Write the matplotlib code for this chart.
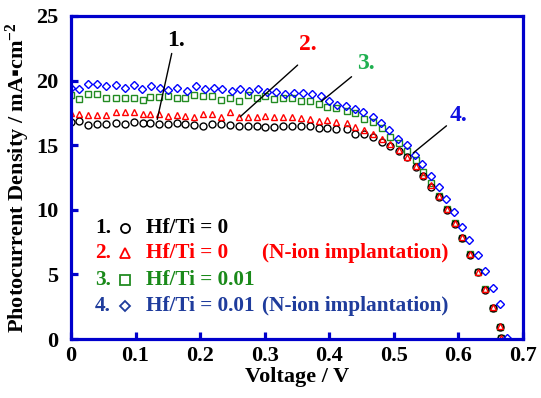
import matplotlib
matplotlib.use("Agg")
import matplotlib.pyplot as plt

plt.rcParams['font.family'] = ['Liberation Serif', 'DejaVu Serif']
plt.rcParams['font.weight'] = 'bold'
plt.rcParams['mathtext.fontset'] = 'custom'
plt.rcParams['mathtext.rm'] = 'Liberation Serif:bold'
plt.rcParams['mathtext.default'] = 'rm'

# voltage points shared by series 1-3
volt = [0.000, 0.012, 0.027, 0.041, 0.055, 0.069, 0.083, 0.097, 0.111, 0.123,
        0.136, 0.150, 0.164, 0.177, 0.190, 0.204, 0.219, 0.232, 0.246, 0.260,
        0.274, 0.288, 0.301, 0.315, 0.329, 0.343, 0.356, 0.370, 0.384, 0.397,
        0.411, 0.427, 0.440, 0.454, 0.467, 0.481, 0.494, 0.508, 0.520, 0.534,
        0.545, 0.558, 0.570, 0.583, 0.594, 0.606, 0.618, 0.631, 0.641, 0.653,
        0.664, 0.666]
# voltage points of series 4
volt4 = [0.000, 0.012, 0.027, 0.040, 0.055, 0.069, 0.083, 0.098, 0.110, 0.124,
         0.138, 0.151, 0.164, 0.179, 0.193, 0.207, 0.221, 0.234, 0.249, 0.262,
         0.276, 0.290, 0.304, 0.318, 0.332, 0.346, 0.360, 0.374, 0.387, 0.400,
         0.412, 0.426, 0.440, 0.453, 0.467, 0.480, 0.493, 0.506, 0.520, 0.533,
         0.544, 0.557, 0.570, 0.581, 0.593, 0.605, 0.617, 0.630, 0.641, 0.653,
         0.664, 0.676]

j1 = [16.82, 16.87, 16.56, 16.66, 16.61, 16.69, 16.66, 16.77, 16.74, 16.69,
      16.61, 16.64, 16.69, 16.61, 16.56, 16.50, 16.64, 16.64, 16.56, 16.51,
      16.49, 16.49, 16.43, 16.38, 16.49, 16.51, 16.51, 16.49, 16.35, 16.35,
      16.28, 16.23, 15.84, 15.84, 15.61, 15.22, 14.96, 14.55, 14.06, 13.34,
      12.62, 11.79, 11.01, 9.98, 8.90, 7.80, 6.50, 5.15, 3.80, 2.40,
      0.95, 0.05]
j2 = [17.52, 17.39, 17.34, 17.34, 17.34, 17.54, 17.54, 17.54, 17.39, 17.39,
      17.39, 17.26, 17.34, 17.26, 17.21, 17.45, 17.45, 17.16, 17.55, 17.16,
      17.16, 17.16, 17.29, 17.22, 17.16, 17.16, 17.13, 17.05, 16.88, 16.98,
      16.82, 16.74, 16.43, 16.18, 15.87, 15.45, 15.09, 14.63, 14.11, 13.41,
      12.69, 11.90, 11.09, 10.09, 9.00, 7.87, 6.58, 5.22, 3.87, 2.44,
      0.97, 0.06]
j3 = [18.89, 18.55, 18.94, 18.94, 18.68, 18.68, 18.68, 18.68, 18.50, 18.76,
      18.76, 18.81, 18.63, 18.63, 18.89, 18.81, 18.81, 18.50, 18.63, 18.42,
      18.89, 18.68, 18.81, 18.60, 18.63, 18.63, 18.45, 18.42, 18.19, 17.98,
      17.86, 17.67, 17.47, 17.03, 16.77, 16.31, 15.61, 15.15, 14.57, 13.85,
      12.95, 12.05, 11.07, 10.08, 8.95, 7.84, 6.56, 5.21, 3.85, 2.42,
      0.95, 0.05]
j4 = [19.40, 19.35, 19.71, 19.71, 19.58, 19.63, 19.40, 19.63, 19.32, 19.58,
      19.45, 19.27, 19.40, 19.20, 19.58, 19.32, 19.45, 19.32, 19.20, 19.32,
      19.20, 19.32, 19.14, 19.14, 18.96, 19.06, 19.06, 18.93, 18.83, 18.45,
      18.12, 18.05, 17.80, 17.60, 17.16, 16.69, 16.20, 15.50, 15.00, 14.24,
      13.53, 12.60, 11.79, 10.81, 9.80, 8.64, 7.66, 6.50, 5.26, 3.92,
      2.68, 0.08]

labels = ['Hf/Ti = 0', 'Hf/Ti = 0', 'Hf/Ti = 0.01', 'Hf/Ti = 0.01']
notes = ['', '(N-ion implantation)', '', '(N-ion implantation)']
text_colors = ['black', '#ff0000', '#1a8a1a', '#1f3c9c']

fig = plt.figure(figsize=(5.41, 3.98), dpi=100)
ax = fig.add_axes([0.1312, 0.1482, 0.8355, 0.8116])

ms = 5
ax.plot(volt, j3, 's', ms=ms - 0.3, mfc='none', mec='#228b22', mew=1)
ax.plot(volt, j1, 'o', ms=ms, mfc='none', mec='black', mew=1)
ax.plot(volt, j2, '^', ms=ms, mfc='none', mec='#ff0000', mew=1)
ax.plot(volt4, j4, 'D', ms=ms - 0.8, mfc='none', mec='#0000ff', mew=1)

ax.set_xlim(0, 0.7)
ax.set_ylim(0, 25)
ax.set_xticks([0, 0.1, 0.2, 0.3, 0.4, 0.5, 0.6, 0.7])
ax.set_xticklabels(['0', '0.1', '0.2', '0.3', '0.4', '0.5', '0.6', '0.7'])
ax.set_yticks([0, 5, 10, 15, 20, 25])

for s in ax.spines.values():
    s.set_color('#0000cc')
    s.set_linewidth(2.3)
ax.tick_params(direction='in', length=5, width=2.3, color='#0000cc',
               labelsize=16)
ax.tick_params(axis='x', pad=5)
ax.tick_params(axis='y', pad=9)

ax.set_xlabel('Voltage / V', fontsize=16, fontweight='bold', labelpad=1)
ax.set_ylabel('Photocurrent Density / mA\u25aacm$^{-2}$', fontsize=16,
              fontweight='bold', labelpad=3)

# callouts
callouts = [('1.', 'black', (0.1336, 17.0), (0.156, 22.1), (0.162, 22.3)),
            ('2.', '#ff0000', (0.262, 17.2), (0.351, 21.2), (0.367, 22.0)),
            ('3.', '#1fb050', (0.388, 18.4), (0.4345, 20.3), (0.456, 20.5)),
            ('4.', '#1010e0', (0.530, 14.4), (0.5815, 16.5), (0.600, 16.5))]
for txt, col, p_end, p_start, p_txt in callouts:
    ax.annotate('', xy=p_end, xytext=p_start,
                arrowprops=dict(arrowstyle='-', color='black', lw=1,
                                shrinkA=0, shrinkB=0))
    ax.text(p_txt[0], p_txt[1], txt, color=col, fontsize=17,
            fontweight='bold', ha='center', va='bottom')

# hand-made legend
rows = [0.343, 0.265, 0.183, 0.102]
marks = ['o', '^', 's', 'D']
mark_colors = ['black', '#ff0000', '#228b22', '#1f3c9c']
for i in range(4):
    y = rows[i]
    ax.text(0.053, y, '%d.' % (i + 1), color=text_colors[i], fontsize=15.3,
            fontweight='bold', ha='left', va='center', transform=ax.transAxes)
    ax.plot([0.1195], [y], marks[i], ms=6.5 if marks[i] != 'D' else 5.5,
            mfc='none', mec=mark_colors[i], mew=1.3, transform=ax.transAxes,
            clip_on=False)
    ax.text(0.166, y, labels[i], color=text_colors[i], fontsize=15.3,
            fontweight='bold', ha='left', va='center', transform=ax.transAxes)
    if notes[i]:
        ax.text(0.4226, y, notes[i], color=text_colors[i], fontsize=15.3,
                fontweight='bold', ha='left', va='center',
                transform=ax.transAxes)

fig.savefig('out.png', dpi=100)
